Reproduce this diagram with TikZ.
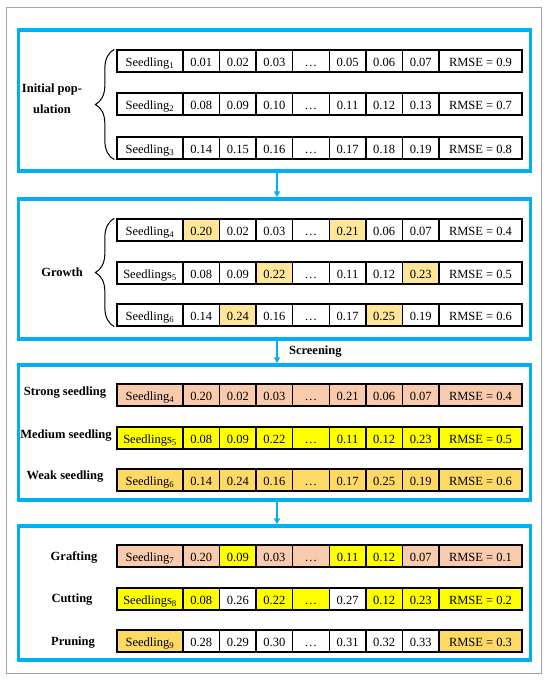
\documentclass[tikz,border=0pt]{standalone}
\usepackage{fontspec}
\setmainfont{Liberation Serif}
\usetikzlibrary{arrows.meta,positioning,decorations.pathreplacing}
\definecolor{panelblue}{RGB}{0,176,240}
\definecolor{peach}{RGB}{248,203,173}
\definecolor{brightyel}{RGB}{255,255,0}
\definecolor{gold}{RGB}{255,217,102}
\definecolor{lightgold}{RGB}{255,230,153}
\definecolor{framegray}{RGB}{165,165,165}

% one row of a seedling: name, y, label, label fill, values, rmse, rmse fill
\newcommand{\seedrow}[7]{%
  \node[seedcell, fill=#4] (#1-0) at (150,#2) {#3};
  \foreach \v/\c [count=\i] in {#5}
    \node[valcell, fill=\c] (#1-\i) at ({183+36.57*(\i-0.5)},#2) {\v};
  \node[rmsecell, fill=#7] (#1-8) at (480.5,#2) {RMSE = #6};
}

\begin{document}
\begin{tikzpicture}[
  x=1pt, y=-1pt,
  cell/.style={rectangle, draw=black, line width=1.3pt, minimum height=22pt,
               inner sep=0pt, text height=11.5pt, text depth=0pt,
               font=\fontsize{12.5pt}{14pt}\selectfont},
  seedcell/.style={cell, minimum width=66pt},
  valcell/.style={cell, minimum width=36.57pt},
  rmsecell/.style={cell, minimum width=83pt},
  panel/.style={rectangle, draw=panelblue, line width=3.5pt, minimum width=512pt},
  lbl/.style={font=\bfseries\fontsize{12.5pt}{14pt}\selectfont, align=center},
  arr/.style={-{Triangle[length=6pt, width=6pt]}, draw=panelblue, line width=1.5pt},
  brc/.style={decorate, decoration={brace, amplitude=19pt}, line width=1pt}
]
\useasboundingbox (0,0) rectangle (550,680);
\fill[white] (0,0) rectangle (550,680);
\draw[framegray, line width=1pt] (6.5,7.5) rectangle (541,673);

% Panels
\node[panel, minimum height=141pt] (p1) at (274.5,100.5) {};
\node[panel, minimum height=140pt] (p2) at (274.5,269) {};
\node[panel, minimum height=135pt] (p3) at (274.5,432.5) {};
\node[panel, minimum height=134pt] (p4) at (274.5,593) {};

% Initial population
\seedrow{ini1}{61}{Seedling\textsubscript{1}}{white}{0.01/white,0.02/white,0.03/white,…/white,0.05/white,0.06/white,0.07/white}{0.9}{white}
\seedrow{ini2}{104}{Seedling\textsubscript{2}}{white}{0.08/white,0.09/white,0.10/white,…/white,0.11/white,0.12/white,0.13/white}{0.7}{white}
\seedrow{ini3}{148}{Seedling\textsubscript{3}}{white}{0.14/white,0.15/white,0.16/white,…/white,0.17/white,0.18/white,0.19/white}{0.8}{white}

% Growth
\seedrow{gro1}{230}{Seedling\textsubscript{4}}{white}{0.20/lightgold,0.02/white,0.03/white,…/white,0.21/lightgold,0.06/white,0.07/white}{0.4}{white}
\seedrow{gro2}{273}{Seedlings\textsubscript{5}}{white}{0.08/white,0.09/white,0.22/lightgold,…/white,0.11/white,0.12/white,0.23/lightgold}{0.5}{white}
\seedrow{gro3}{315}{Seedling\textsubscript{6}}{white}{0.14/white,0.24/lightgold,0.16/white,…/white,0.17/white,0.25/lightgold,0.19/white}{0.6}{white}

% Screening
\seedrow{str}{395}{Seedling\textsubscript{4}}{peach}{0.20/peach,0.02/peach,0.03/peach,…/peach,0.21/peach,0.06/peach,0.07/peach}{0.4}{peach}
\seedrow{med}{438}{Seedlings\textsubscript{5}}{brightyel}{0.08/brightyel,0.09/brightyel,0.22/brightyel,…/brightyel,0.11/brightyel,0.12/brightyel,0.23/brightyel}{0.5}{brightyel}
\seedrow{wea}{480}{Seedling\textsubscript{6}}{gold}{0.14/gold,0.24/gold,0.16/gold,…/gold,0.17/gold,0.25/gold,0.19/gold}{0.6}{gold}

% Grafting, cutting, pruning
\seedrow{gra}{556}{Seedling\textsubscript{7}}{peach}{0.20/peach,0.09/brightyel,0.03/peach,…/peach,0.11/brightyel,0.12/brightyel,0.07/peach}{0.1}{peach}
\seedrow{cut}{599}{Seedlings\textsubscript{8}}{brightyel}{0.08/brightyel,0.26/white,0.22/brightyel,…/brightyel,0.27/white,0.12/brightyel,0.23/brightyel}{0.2}{brightyel}
\seedrow{pru}{641}{Seedling\textsubscript{9}}{gold}{0.28/white,0.29/white,0.30/white,…/white,0.31/white,0.32/white,0.33/white}{0.3}{gold}

% Braces and labels
\draw[brc] ([xshift=-2pt]ini3-0.south west) -- ([xshift=-2pt]ini1-0.north west);
\draw[brc] ([xshift=-2pt]gro3-0.south west) -- ([xshift=-2pt]gro1-0.north west);
\node[lbl] (inilbl) at (52,98.5) {Initial pop-\\[7pt]ulation};
\node[lbl] (grolbl) at (62,272) {Growth};
\node[lbl] (strlbl) at (65,393) {Strong seedling};
\node[lbl] (medlbl) at (66,436) {Medium seedling};
\node[lbl] (wealbl) at (65,477) {Weak seedling};
\node[lbl] (gralbl) at (74,557) {Grafting};
\node[lbl] (cutlbl) at (72,600) {Cutting};
\node[lbl] (prulbl) at (73,643) {Pruning};

% Arrows
\draw[arr] ([xshift=2.5pt]p1.south) -- ([xshift=2.5pt]p2.north);
\draw[arr] ([xshift=2.5pt]p2.south) -- ([xshift=2.5pt]p3.north)
  node[lbl, midway, right=8pt] (scrlbl) {Screening};
\draw[arr] ([xshift=2.5pt]p3.south) -- ([xshift=2.5pt]p4.north);
\end{tikzpicture}
\end{document}
